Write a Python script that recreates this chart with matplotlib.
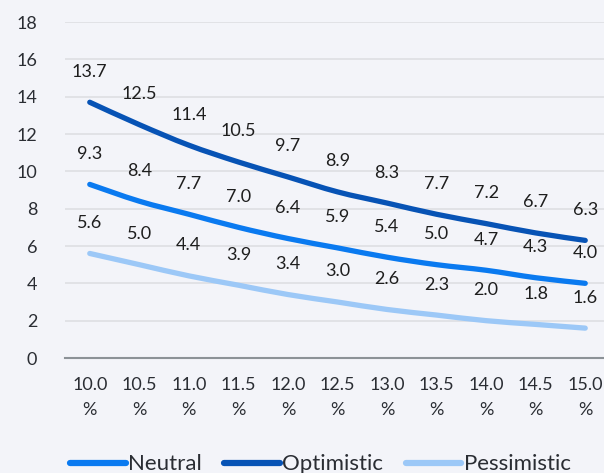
import matplotlib.pyplot as plt
from matplotlib.path import Path
from matplotlib.patches import PathPatch
from matplotlib.lines import Line2D

plt.rcParams['font.family'] = ['Lato', 'DejaVu Sans']

rates = ["10.0\n%", "10.5\n%", "11.0\n%", "11.5\n%", "12.0\n%", "12.5\n%",
         "13.0\n%", "13.5\n%", "14.0\n%", "14.5\n%", "15.0\n%"]
neutral = [9.3, 8.4, 7.7, 7.0, 6.4, 5.9, 5.4, 5.0, 4.7, 4.3, 4.0]
optimistic = [13.7, 12.5, 11.4, 10.5, 9.7, 8.9, 8.3, 7.7, 7.2, 6.7, 6.3]
pessimistic = [5.6, 5.0, 4.4, 3.9, 3.4, 3.0, 2.6, 2.3, 2.0, 1.8, 1.6]

bg = '#F3F4F9'
txt = '#2A2D33'
series = [
    ("Neutral", neutral, '#0A7AF0'),
    ("Optimistic", optimistic, '#0753B5'),
    ("Pessimistic", pessimistic, '#9CC8F7'),
]


def smooth_path(xs, ys):
    # Catmull-Rom through the points, written as cubic bezier segments
    verts = [(xs[0], ys[0])]
    codes = [Path.MOVETO]
    n = len(xs)
    for i in range(n - 1):
        p0 = (xs[max(i - 1, 0)], ys[max(i - 1, 0)])
        p1 = (xs[i], ys[i])
        p2 = (xs[i + 1], ys[i + 1])
        p3 = (xs[min(i + 2, n - 1)], ys[min(i + 2, n - 1)])
        c1 = (p1[0] + (p2[0] - p0[0]) / 6, p1[1] + (p2[1] - p0[1]) / 6)
        c2 = (p2[0] - (p3[0] - p1[0]) / 6, p2[1] - (p3[1] - p1[1]) / 6)
        verts += [c1, c2, p2]
        codes += [Path.CURVE4] * 3
    return Path(verts, codes)


fig = plt.figure(figsize=(6.04, 4.73), dpi=100, facecolor=bg)
ax = fig.add_axes([65 / 604, 1 - 358 / 473, 545 / 604, 336 / 473], facecolor=bg)

x = list(range(len(rates)))
handles = []
for name, vals, col in series:
    ax.add_patch(PathPatch(smooth_path(x, vals), facecolor='none', edgecolor=col,
                           lw=3.8, capstyle='round', zorder=3))
    handles.append(Line2D([], [], color=col, lw=4.5, solid_capstyle='round', label=name))
    for xi, v in zip(x, vals):
        ax.annotate(f"{v:.1f}", (xi, v), xytext=(0, 22), textcoords='offset points',
                    ha='center', va='center', fontsize=13, color='#1E1E1E')

ax.set_xlim(-0.5, 10.5)
ax.set_ylim(0, 18)
ax.set_yticks(range(0, 19, 2))
ax.set_xticks(x)
ax.set_xticklabels(rates, linespacing=1.65)
ax.grid(axis='y', color='#DEDFE3', lw=1.2, zorder=0)
ax.set_axisbelow(True)
for s in ['top', 'right', 'left']:
    ax.spines[s].set_visible(False)
ax.spines['bottom'].set_color('#8C9297')
ax.spines['bottom'].set_linewidth(1.5)
ax.tick_params(axis='both', length=0, labelsize=13, colors=txt)
ax.tick_params(axis='x', pad=14)
ax.tick_params(axis='y', pad=20)

leg = fig.legend(handles=handles, loc='lower left', bbox_to_anchor=(50 / 604, -0.045),
                 ncol=3, frameon=False, fontsize=16, handlelength=2.5, handletextpad=0.12,
                 columnspacing=1.0, labelcolor=txt)

fig.savefig('out.png', dpi=100, facecolor=bg)
